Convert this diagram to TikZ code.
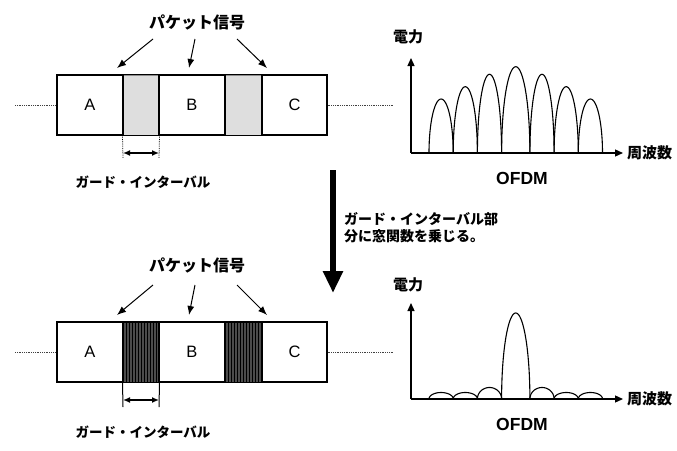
\documentclass[tikz,border=0pt]{standalone}
\usepackage{fontspec}
\setmainfont{Liberation Sans}
\newfontfamily\jp{Noto Sans CJK JP}
\usetikzlibrary{arrows.meta,patterns}
\begin{document}
\begin{tikzpicture}[x=1pt,y=-1pt,
  box/.style={draw, line width=1.3pt, minimum height=60pt, inner sep=0pt, font=\fontsize{16.5}{16.5}\selectfont},
  guardL/.style={draw=black!45, line width=1pt, fill=black!13, minimum height=60pt, inner sep=0pt},
  guardD/.style={draw=black, line width=1pt, fill=black!70, postaction={pattern=vertical lines, pattern color=black}, minimum height=60pt, inner sep=0pt},
  frame/.style={line width=1.3pt},
  lead/.style={densely dotted, line width=0.8pt, black!75},
  ptr/.style={line width=1pt, -{Latex[length=9pt,width=7pt]}},
  dimext/.style={line width=0.8pt, densely dotted},
  dimsolid/.style={line width=1pt},
  dimarr/.style={line width=1.4pt, {Latex[length=7pt,width=6pt]}-{Latex[length=7pt,width=6pt]}},
  jpbig/.style={font=\jp\bfseries\fontsize{16}{16}\selectfont, inner sep=0pt},
  jpmid/.style={font=\jp\bfseries\fontsize{13.5}{13.5}\selectfont, inner sep=0pt},
  jpax/.style={font=\jp\bfseries\fontsize{15}{15}\selectfont, inner sep=0pt},
  jpnote/.style={font=\jp\bfseries\fontsize{14}{17}\selectfont, inner sep=0pt, align=left},
  ofdm/.style={font=\bfseries\fontsize{17.5}{17.5}\selectfont, inner sep=0pt},
  axis/.style={line width=1.3pt, -{Triangle[length=8pt,width=7pt]}},
  lobe/.style={line width=1.1pt},
  bigarrow/.style={line width=6pt, -{Triangle[length=22pt,width=19pt]}}
]
\useasboundingbox (0,0) rectangle (677,450);

% ===== top row =====
\node[guardL, minimum width=36pt] (g1) at (141,105) {};
\node[guardL, minimum width=37pt] (g2) at (243.5,105) {};
\node[box, minimum width=66pt] (a1) at (90,105) {A};
\node[box, minimum width=66pt] (b1) at (192,105) {B};
\node[box, minimum width=65pt] (c1) at (294.5,105) {C};
\draw[frame] (a1.north east) -- (c1.north west);
\draw[frame] (a1.south east) -- (c1.south west);
\coordinate (l1) at (15,105);
\coordinate (r1) at (393,105);
\draw[lead] (l1) -- (a1.west);
\draw[lead] (c1.east) -- (r1);

\node[jpbig] (pk1) at (197,22) {パケット信号};
\coordinate (s11) at (153,39); \coordinate (e11) at (117,68);
\coordinate (s12) at (195,39); \coordinate (e12) at (189,68);
\coordinate (s13) at (237,39); \coordinate (e13) at (267,68);
\draw[ptr] (s11) -- (e11);
\draw[ptr] (s12) -- (e12);
\draw[ptr] (s13) -- (e13);

\coordinate (d11) at (123,158); \coordinate (d12) at (159,158);
\draw[dimext] (g1.south west) -- (d11);
\draw[dimext] (g1.south east) -- (d12);
\coordinate (da11) at (123,153); \coordinate (da12) at (159,153);
\draw[dimarr] (da11) -- (da12);
\node[jpmid] (gi1) at (143,182) {ガード・インターバル};

% ===== bottom row =====
\node[guardD, minimum width=36pt] (g3) at (141,352) {};
\node[guardD, minimum width=37pt] (g4) at (243.5,352) {};
\node[box, minimum width=66pt] (a2) at (90,352) {A};
\node[box, minimum width=66pt] (b2) at (192,352) {B};
\node[box, minimum width=65pt] (c2) at (294.5,352) {C};
\draw[frame] (a2.north east) -- (c2.north west);
\draw[frame] (a2.south east) -- (c2.south west);
\coordinate (l2) at (15,352);
\coordinate (r2) at (393,352);
\draw[lead] (l2) -- (a2.west);
\draw[lead] (c2.east) -- (r2);

\node[jpbig] (pk2) at (197,265) {パケット信号};
\coordinate (s21) at (153,285); \coordinate (e21) at (117,315);
\coordinate (s22) at (195,285); \coordinate (e22) at (189,315);
\coordinate (s23) at (237,285); \coordinate (e23) at (267,315);
\draw[ptr] (s21) -- (e21);
\draw[ptr] (s22) -- (e22);
\draw[ptr] (s23) -- (e23);

\coordinate (d21) at (123,407); \coordinate (d22) at (159,407);
\draw[dimsolid] (g3.south west) -- (d21);
\draw[dimsolid] (g3.south east) -- (d22);
\coordinate (da21) at (123,400); \coordinate (da22) at (159,400);
\draw[dimarr] (da21) -- (da22);
\node[jpmid] (gi2) at (143,432) {ガード・インターバル};

% ===== big arrow and note =====
\coordinate (bt) at (333,170);
\coordinate (bb) at (333,293);
\draw[bigarrow] (bt) -- (bb);
\node[jpnote, anchor=north west] (note) at (344,212) {ガード・インターバル部\\分に窓関数を乗じる。};

% ===== top spectrum =====
\begin{scope}[shift={(411,153)}, yscale=-1]
  \coordinate (o1) at (0,0);
  \coordinate (yt1) at (0,95);
  \coordinate (xt1) at (212,0);
  \draw[axis] (o1) -- (yt1);
  \draw[axis] (o1) -- (xt1);
  \foreach \ls/\lw/\lh in {18/24.2/54, 42.2/24.2/66.3, 66.4/24.2/78.7, 90.6/28.3/86.3, 118.9/24.2/78.7, 143.1/24.2/66.3, 167.3/24.2/54}
    \draw[lobe] plot[domain=0:180, samples=45, smooth] ({\ls+\lw/2-\lw/2*cos(\x)},{\lh*sin(\x)});
\end{scope}
\node[jpax] (pw1) at (408,37) {電力};
\node[jpax, anchor=west] (fq1) at (627,153) {周波数};
\node[ofdm] (of1) at (522,178) {OFDM};

% ===== bottom spectrum =====
\begin{scope}[shift={(411,399)}, yscale=-1]
  \coordinate (o2) at (0,0);
  \coordinate (yt2) at (0,96);
  \coordinate (xt2) at (212,0);
  \draw[axis] (o2) -- (yt2);
  \draw[axis] (o2) -- (xt2);
  \foreach \ls/\lw/\lh in {18/24.2/6.5, 42.2/24.2/6.5, 66.4/24.2/11.5, 90.6/28.3/86, 118.9/24.2/11.5, 143.1/24.2/6.5, 167.3/24.2/6.5}
    \draw[lobe] plot[domain=0:180, samples=45, smooth] ({\ls+\lw/2-\lw/2*cos(\x)},{\lh*sin(\x)});
\end{scope}
\node[jpax] (pw2) at (408,285) {電力};
\node[jpax, anchor=west] (fq2) at (627,399) {周波数};
\node[ofdm] (of2) at (522,424) {OFDM};
\end{tikzpicture}
\end{document}
